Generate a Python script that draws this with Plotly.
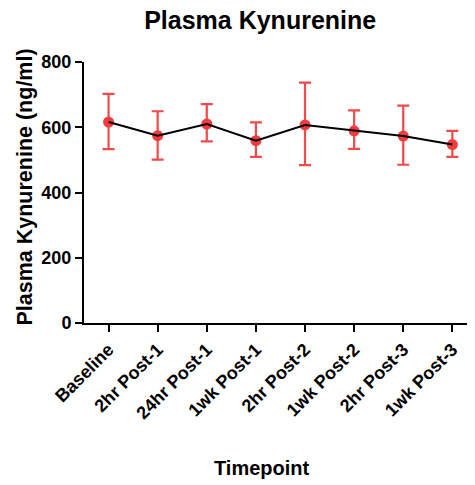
import plotly.graph_objects as go

timepoints = ["Baseline", "2hr Post-1", "24hr Post-1", "1wk Post-1",
              "2hr Post-2", "1wk Post-2", "2hr Post-3", "1wk Post-3"]
mean_kyn = [616, 574, 610, 559, 607, 589, 573, 547]
err_plus = [86, 75, 61, 56, 130, 63, 93, 42]
err_minus = [83, 73, 53, 50, 123, 55, 88, 38]
y_ticks = [0, 200, 400, 600, 800]

fig = go.Figure()
fig.add_trace(go.Scatter(
    x=list(range(len(timepoints))), y=mean_kyn, mode="markers",
    marker=dict(color="#f53b3b", size=11),
    error_y=dict(type="data", symmetric=False, array=err_plus, arrayminus=err_minus,
                 color="#f24a4a", thickness=2.2, width=6),
    showlegend=False, hoverinfo="skip"))
fig.add_trace(go.Scatter(
    x=list(range(len(timepoints))), y=mean_kyn, mode="lines",
    line=dict(color="black", width=2), showlegend=False))

font_b = "Liberation Sans, Arial, sans-serif"
fig.update_layout(
    width=467, height=477,
    margin=dict(l=76, r=3, t=54, b=162, autoexpand=False),
    paper_bgcolor="white", plot_bgcolor="white",
    font=dict(family=font_b, color="black"),
    title=dict(text="<b>Plasma Kynurenine</b>", x=0.54, xanchor="center",
               y=0.975, yanchor="middle", font=dict(size=25, family=font_b)),
    xaxis=dict(range=[-0.5, 7.4], tickmode="array",
               tickvals=list(range(len(timepoints))),
               ticktext=["<b>%s</b>" % t for t in timepoints],
               tickangle=-45, tickfont=dict(size=18, family=font_b),
               showline=True, linecolor="black", linewidth=2,
               ticks="outside", ticklen=7, tickwidth=2, tickcolor="black",
               showgrid=False, zeroline=False, automargin=False),
    yaxis=dict(range=[0, 800], tickmode="array", tickvals=y_ticks,
               ticktext=["<b>%d</b>" % v for v in y_ticks],
               tickfont=dict(size=18, family=font_b),
               showline=True, linecolor="black", linewidth=2,
               ticks="outside", ticklen=7, tickwidth=2, tickcolor="black",
               showgrid=False, zeroline=False, automargin=False),
    annotations=[
        dict(text="<b>Timepoint</b>", xref="paper", yref="paper", x=0.459, y=-0.556,
             xanchor="center", yanchor="middle", showarrow=False,
             font=dict(size=20, family=font_b)),
        dict(text="<b>Plasma Kynurenine (ng/ml)</b>", xref="paper", yref="paper",
             x=-0.152, y=0.519, xanchor="center", yanchor="middle", textangle=-90,
             showarrow=False, font=dict(size=21.5, family=font_b)),
    ],
)
fig.write_html("out.html")
